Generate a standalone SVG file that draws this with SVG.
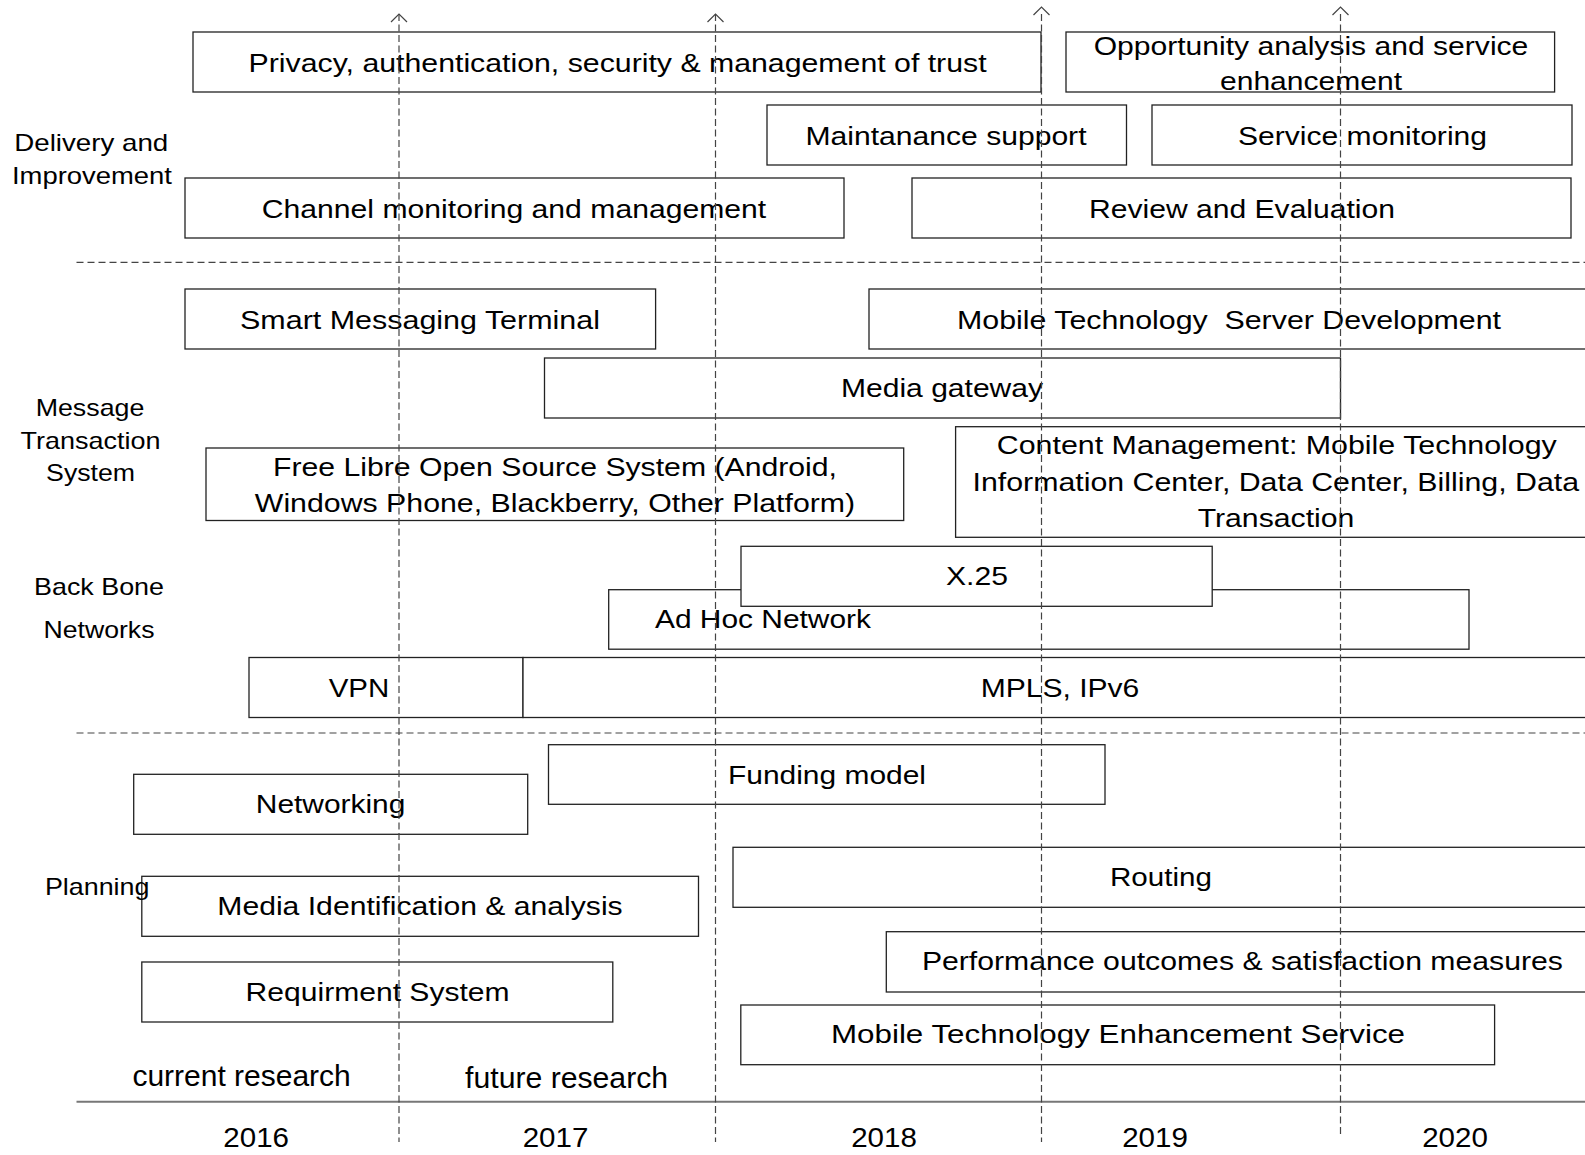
<svg xmlns="http://www.w3.org/2000/svg" width="1585" height="1155" viewBox="0 0 1585 1155">
<defs>
<style>
.box{fill:#fff;stroke:#222;stroke-width:1.3}
.t{font-family:"Liberation Sans",Arial,sans-serif;font-size:26px;fill:#000;text-anchor:middle}
.lbl{font-family:"Liberation Sans",Arial,sans-serif;font-size:24px;fill:#000;text-anchor:middle}
.res{font-family:"Liberation Sans",Arial,sans-serif;font-size:29px;fill:#000;text-anchor:middle}
.yr{font-family:"Liberation Sans",Arial,sans-serif;font-size:28px;fill:#000;text-anchor:middle}
.sep{stroke:#444;stroke-width:1.2;stroke-dasharray:7 4;fill:none}
.vd{stroke:#444;stroke-width:1.2;stroke-dasharray:7 3.5;fill:none}
.ah{stroke:#444;stroke-width:1.2;fill:none}
.axis{stroke:#777;stroke-width:2;fill:none}
</style>
</defs>
<rect width="1585" height="1155" fill="#fff"/>

<g id="labels">
<text class="lbl" x="91.3" y="150.7" textLength="154" lengthAdjust="spacingAndGlyphs">Delivery and</text>
<text class="lbl" x="92" y="184" textLength="160" lengthAdjust="spacingAndGlyphs">Improvement</text>
<text class="lbl" x="90" y="415.7" textLength="108.7" lengthAdjust="spacingAndGlyphs">Message</text>
<text class="lbl" x="90.6" y="449" textLength="140" lengthAdjust="spacingAndGlyphs">Transaction</text>
<text class="lbl" x="90.6" y="481" textLength="89" lengthAdjust="spacingAndGlyphs">System</text>
<text class="lbl" x="99" y="595" textLength="130" lengthAdjust="spacingAndGlyphs">Back Bone</text>
<text class="lbl" x="99" y="638.3" textLength="111" lengthAdjust="spacingAndGlyphs">Networks</text>
</g>

<g id="privacy"><rect class="box" x="193" y="32" width="848" height="60"/><text class="t" x="617.6" y="71.5" textLength="738" lengthAdjust="spacingAndGlyphs">Privacy, authentication, security &amp; management of trust</text></g>
<g id="opportunity"><rect class="box" x="1066" y="32" width="488.6" height="60"/><text class="t" x="1311" y="55" textLength="434.7" lengthAdjust="spacingAndGlyphs">Opportunity analysis and service</text><text class="t" x="1311" y="89.5" textLength="182" lengthAdjust="spacingAndGlyphs">enhancement</text></g>
<g id="maintenance"><rect class="box" x="767" y="105" width="359.5" height="60"/><text class="t" x="946" y="145" textLength="281" lengthAdjust="spacingAndGlyphs">Maintanance support</text></g>
<g id="service-monitoring"><rect class="box" x="1152" y="105" width="420" height="60"/><text class="t" x="1362.5" y="145" textLength="249" lengthAdjust="spacingAndGlyphs">Service monitoring</text></g>
<g id="channel"><rect class="box" x="185" y="178" width="659" height="60"/><text class="t" x="514" y="217.5" textLength="504.5" lengthAdjust="spacingAndGlyphs">Channel monitoring and management</text></g>
<g id="review"><rect class="box" x="912" y="178" width="659" height="60"/><text class="t" x="1242" y="217.5" textLength="306" lengthAdjust="spacingAndGlyphs">Review and Evaluation</text></g>

<g id="smart-messaging"><rect class="box" x="185" y="289" width="470.6" height="60"/><text class="t" x="420" y="329" textLength="360" lengthAdjust="spacingAndGlyphs">Smart Messaging Terminal</text></g>
<g id="server-dev"><rect class="box" x="869" y="289" width="760" height="60"/><text class="t" x="1229" y="329" textLength="544" lengthAdjust="spacingAndGlyphs" style="white-space:pre">Mobile Technology  Server Development</text></g>
<g id="media-gateway"><rect class="box" x="544.5" y="358" width="796" height="60"/><text class="t" x="942" y="397" textLength="202" lengthAdjust="spacingAndGlyphs">Media gateway</text></g>
<g id="floss"><rect class="box" x="206" y="448" width="697.7" height="72.5"/><text class="t" x="555" y="475.7" textLength="564" lengthAdjust="spacingAndGlyphs">Free Libre Open Source System (Android,</text><text class="t" x="555" y="511.7" textLength="600.4" lengthAdjust="spacingAndGlyphs">Windows Phone, Blackberry, Other Platform)</text></g>
<g id="content-mgmt"><rect class="box" x="955.6" y="426.7" width="700" height="110.6"/><text class="t" x="1276.8" y="454" textLength="560" lengthAdjust="spacingAndGlyphs">Content Management: Mobile Technology</text><text class="t" x="1275.8" y="490.7" textLength="606.6" lengthAdjust="spacingAndGlyphs">Information Center, Data Center, Billing, Data</text><text class="t" x="1276" y="527.3" textLength="156.7" lengthAdjust="spacingAndGlyphs">Transaction</text></g>
<g id="adhoc"><rect class="box" x="608.7" y="589.7" width="860.3" height="59.5"/><text class="t" x="763" y="628.3" textLength="216" lengthAdjust="spacingAndGlyphs">Ad Hoc Network</text></g>
<g id="x25"><rect class="box" x="741" y="546.3" width="471.2" height="60"/><text class="t" x="977" y="585" textLength="62" lengthAdjust="spacingAndGlyphs">X.25</text></g>
<g id="vpn"><rect class="box" x="249" y="657.5" width="274" height="60"/><text class="t" x="359" y="696.7" textLength="60.6" lengthAdjust="spacingAndGlyphs">VPN</text></g>
<g id="mpls"><rect class="box" x="523" y="657.5" width="1100" height="60"/><text class="t" x="1060" y="696.7" textLength="158.7" lengthAdjust="spacingAndGlyphs">MPLS, IPv6</text></g>

<g id="funding"><rect class="box" x="548.5" y="744.7" width="556.5" height="59.6"/><text class="t" x="827" y="783.5" textLength="198" lengthAdjust="spacingAndGlyphs">Funding model</text></g>
<g id="networking"><rect class="box" x="133.7" y="774.3" width="394" height="60"/><text class="t" x="330.6" y="813.3" textLength="149.6" lengthAdjust="spacingAndGlyphs">Networking</text></g>
<g id="routing"><rect class="box" x="733" y="847.3" width="900" height="60"/><text class="t" x="1161" y="886" textLength="102" lengthAdjust="spacingAndGlyphs">Routing</text></g>
<g id="media-ident"><rect class="box" x="141.8" y="876.3" width="556.7" height="60"/><text class="t" x="420" y="915.3" textLength="405.4" lengthAdjust="spacingAndGlyphs">Media Identification &amp; analysis</text></g>
<g id="planning-label"><text class="lbl" x="97.2" y="895" textLength="104.6" lengthAdjust="spacingAndGlyphs">Planning</text></g>
<g id="performance"><rect class="box" x="886.3" y="931.7" width="800" height="60.3"/><text class="t" x="1242.4" y="970" textLength="641" lengthAdjust="spacingAndGlyphs">Performance outcomes &amp; satisfaction measures</text></g>
<g id="requirement"><rect class="box" x="141.8" y="962" width="471" height="60"/><text class="t" x="377.6" y="1001" textLength="264" lengthAdjust="spacingAndGlyphs">Requirment System</text></g>
<g id="mt-enhancement"><rect class="box" x="740.8" y="1005" width="753.8" height="59.7"/><text class="t" x="1118" y="1043.3" textLength="574" lengthAdjust="spacingAndGlyphs">Mobile Technology Enhancement Service</text></g>

<g id="research-labels">
<text class="res" x="241.6" y="1086" textLength="218.4" lengthAdjust="spacingAndGlyphs">current research</text>
<text class="res" x="566.6" y="1088.3" textLength="203" lengthAdjust="spacingAndGlyphs">future research</text>
</g>

<g id="years">
<text class="yr" x="256.2" y="1146.7" textLength="65.7" lengthAdjust="spacingAndGlyphs">2016</text>
<text class="yr" x="555.5" y="1146.7" textLength="65.7" lengthAdjust="spacingAndGlyphs">2017</text>
<text class="yr" x="884" y="1146.7" textLength="65.7" lengthAdjust="spacingAndGlyphs">2018</text>
<text class="yr" x="1155" y="1146.7" textLength="65.7" lengthAdjust="spacingAndGlyphs">2019</text>
<text class="yr" x="1455" y="1146.7" textLength="65.7" lengthAdjust="spacingAndGlyphs">2020</text>
</g>

<g id="connectors">
<line class="sep" x1="76.5" y1="262.3" x2="1585" y2="262.3"/>
<line class="sep" x1="76.5" y1="733" x2="1585" y2="733"/>
<line class="axis" x1="76.5" y1="1101.7" x2="1585" y2="1101.7"/>
<line class="vd" x1="399" y1="14" x2="399" y2="1142"/>
<line class="vd" x1="715.5" y1="14" x2="715.5" y2="1142"/>
<line class="vd" x1="1041.5" y1="14" x2="1041.5" y2="1142"/>
<line class="vd" x1="1340.5" y1="14" x2="1340.5" y2="1136"/>
<polyline class="ah" points="391,22 399,14 407,22"/>
<polyline class="ah" points="707.5,22 715.5,14 723.5,22"/>
<polyline class="ah" points="1033.5,15 1041.5,7 1049.5,15"/>
<polyline class="ah" points="1332.5,15 1340.5,7 1348.5,15"/>
</g>
</svg>
